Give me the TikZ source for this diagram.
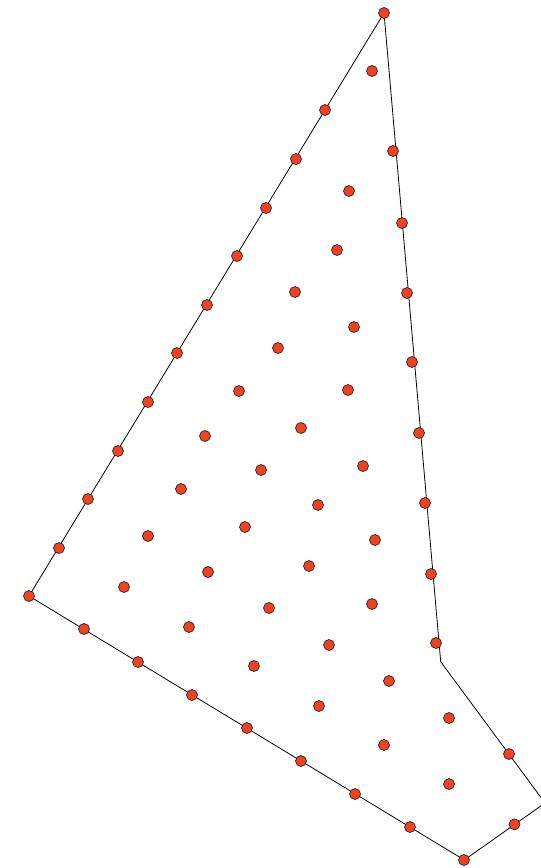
\documentclass[tikz,border=0pt]{standalone}
\definecolor{dotred}{RGB}{238,66,36}
\tikzset{pt/.style={circle,draw=black,line width=0.5pt,fill=dotred,inner sep=0pt,minimum size=11pt},
edge/.style={draw=black,line width=0.8pt}}
\begin{document}
\begin{tikzpicture}[x=1pt,y=-1pt]
\useasboundingbox (0,0) rectangle (541,868);
\clip (0,0) rectangle (541,868);
\coordinate (v1) at (384,13);
\coordinate (v2) at (440.7,661.7);
\coordinate (v3) at (545,803);
\coordinate (v4) at (464.3,860);
\coordinate (v5) at (29,596);
\draw[edge] (v1) -- (v2) -- (v3) -- (v4) -- (v5) -- cycle;
\foreach \x/\y [count=\i] in {384/13,29/596,464/860,
325/110,296/159,266/208,237/256,207/305,177/353,148/402,118/451,88/499,59/548,
393/151,402/223,407/293,412/362,419/433,425/503,431/574,436/643,
84/629,138/662,192/695,247/728,301/761,355/794,410/827,
509/754,514.5/824.3,
372/71,349/191,337/250,295/292,354/327,278/348,239/391,348/390,205/436,301/428,
363/466,261/470,181/489,318/505,245/527,148/536,375/540,309/566,208/572,124/587,
372/604,269/608,189/627,329/645,254/666,389/681,319/706,449/718,384/745,449/784}
  \node[pt] (p\i) at (\x,\y) {};
\end{tikzpicture}
\end{document}
